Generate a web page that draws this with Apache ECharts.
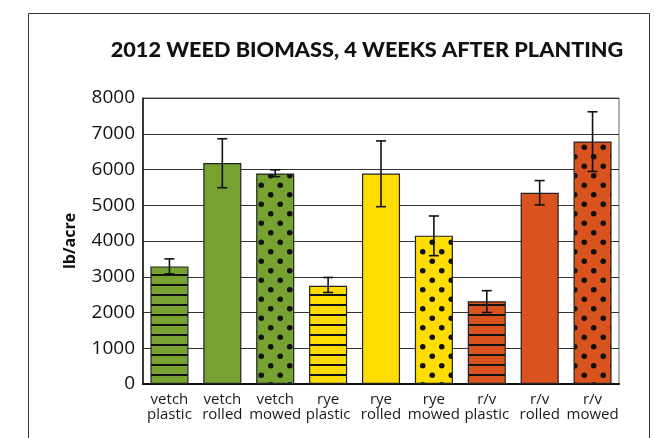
<!DOCTYPE html>
<html>
<head>
<meta charset="utf-8">
<script src="https://cdn.jsdelivr.net/npm/echarts@6/dist/echarts.min.js"></script>
<style>
html,body{margin:0;padding:0;background:#fff;}
#c{width:654px;height:438px;}
</style>
</head>
<body>
<div id="c"></div>
<script>
var categories = ['vetch\nplastic','vetch\nrolled','vetch\nmowed','rye\nplastic','rye\nrolled','rye\nmowed','r/v\nplastic','r/v\nrolled','r/v\nmowed'];
var values = [3290, 6180, 5890, 2750, 5890, 4150, 2315, 5350, 6785];
var errHigh = [3500, 6860, 5990, 2980, 6800, 4700, 2610, 5690, 7615];
var errLow  = [3080, 5490, 5800, 2560, 4960, 3590, 2000, 5010, 5945];
var crop = ['vetch','vetch','vetch','rye','rye','rye','rv','rv','rv'];
var method = ['plastic','rolled','mowed','plastic','rolled','mowed','plastic','rolled','mowed'];
var yTicks = [0,1000,2000,3000,4000,5000,6000,7000,8000];

var cropColor = {vetch:'#76A232', rye:'#FFDD00', rv:'#D9531F'};

function linePattern(bg){
  var c = document.createElement('canvas'); c.width = 10; c.height = 10;
  var g = c.getContext('2d');
  g.fillStyle = bg; g.fillRect(0,0,10,10);
  g.fillStyle = '#111'; g.fillRect(0,4,10,2);
  return {image:c, repeat:'repeat'};
}
function dotPattern(bg){
  var c = document.createElement('canvas'); c.width = 19; c.height = 19;
  var g = c.getContext('2d');
  g.fillStyle = bg; g.fillRect(0,0,19,19);
  g.fillStyle = '#111';
  g.beginPath(); g.arc(4.75,4.75,2.8,0,Math.PI*2); g.fill();
  g.beginPath(); g.arc(14.25,14.25,2.8,0,Math.PI*2); g.fill();
  return {image:c, repeat:'repeat'};
}
function fillFor(i){
  var bg = cropColor[crop[i]];
  if (method[i]==='plastic') return linePattern(bg);
  if (method[i]==='mowed') return dotPattern(bg);
  return bg;
}

var barData = values.map(function(v,i){
  return {value:v, itemStyle:{color:fillFor(i)}};
});
var errData = values.map(function(v,i){ return [i, errLow[i], errHigh[i]]; });

var chart = echarts.init(document.getElementById('c'), null, {renderer:'canvas'});
chart.setOption({
  animation:false,
  backgroundColor:'#fff',
  title:{
    text:'2012 WEED BIOMASS, 4 WEEKS AFTER PLANTING',
    left:362, top:34, textAlign:'center',
    textStyle:{fontFamily:'Lato', fontWeight:900, fontSize:21.7, color:'#111'}
  },
  graphic:[{
    type:'rect', left:26, top:11, silent:true, z:-1,
    shape:{x:0,y:0,width:621,height:460},
    style:{fill:'none', stroke:'#333', lineWidth:1}
  }],
  grid:{left:143, right:35, top:98, bottom:54, show:true, borderColor:'#666', borderWidth:1},
  xAxis:{
    type:'category', data:categories,
    axisLine:{lineStyle:{color:'#111', width:2}},
    axisTick:{show:false},
    axisLabel:{fontFamily:'Open Sans', fontSize:15, lineHeight:15, color:'#1a1a1a', margin:8, interval:0}
  },
  yAxis:{
    type:'value', min:0, max:8000, interval:1000,
    name:'lb/acre', nameLocation:'middle', nameGap:65,
    nameTextStyle:{fontFamily:'Open Sans', fontWeight:'bold', fontSize:16, color:'#111'},
    axisLine:{show:true, lineStyle:{color:'#111', width:1.5}},
    axisTick:{show:false},
    axisLabel:{fontFamily:'Open Sans', fontSize:19, color:'#111', margin:8,
      formatter:function(v){ return yTicks.indexOf(v)>=0 ? String(v) : ''; }},
    splitLine:{lineStyle:{color:'#333', width:1}}
  },
  series:[{
    type:'bar', data:barData, barWidth:'72%',
    itemStyle:{borderColor:'#222', borderWidth:1.2}
  },{
    type:'custom', data:errData, z:10,
    renderItem:function(params, api){
      var x = api.value(0);
      var lo = api.coord([x, api.value(1)]);
      var hi = api.coord([x, api.value(2)]);
      var w = 5;
      var st = {stroke:'#111', lineWidth:1.6};
      return {type:'group', children:[
        {type:'line', shape:{x1:lo[0], y1:lo[1], x2:hi[0], y2:hi[1]}, style:st},
        {type:'line', shape:{x1:hi[0]-w, y1:hi[1], x2:hi[0]+w, y2:hi[1]}, style:st},
        {type:'line', shape:{x1:lo[0]-w, y1:lo[1], x2:lo[0]+w, y2:lo[1]}, style:st}
      ]};
    }
  }]
});
</script>
</body>
</html>
